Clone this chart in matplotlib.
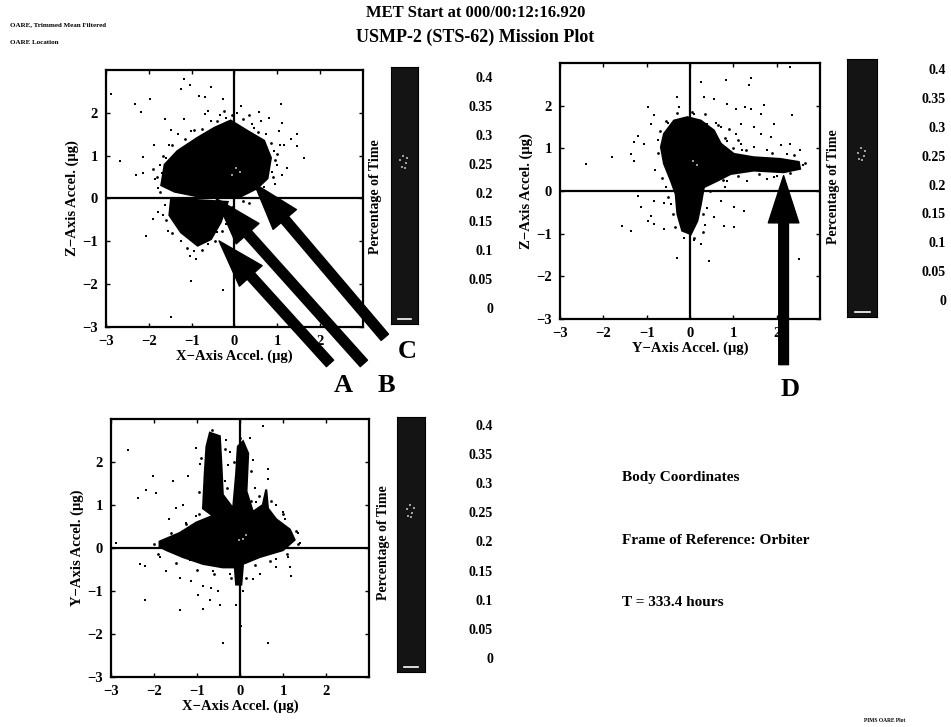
import matplotlib.pyplot as plt

plt.rcParams['font.family'] = ['Liberation Serif', 'DejaVu Serif']
plt.rcParams['font.weight'] = 'bold'
plt.rcParams['axes.labelweight'] = 'bold'

# ---- (units: micro-g) ----
axis_ticks = [-3, -2, -1, 0, 1, 2]
pct_ticks = [0, 0.05, 0.1, 0.15, 0.2, 0.25, 0.3, 0.35, 0.4]
pct_labels = ["0", "0.05", "0.1", "0.15", "0.2", "0.25", "0.3", "0.35", "0.4"]

# X vs Z (top left): dense core outline, lower lobe outline, sparse points
xz_core_x = [-1.71, -1.63, -1.33, -0.86, -0.47, -0.09, 0.30, 0.69, 0.85, 0.77, 0.53, 0.15, -0.86, -1.40]
xz_core_y = [0.31, 0.79, 1.11, 1.42, 1.65, 1.82, 1.58, 1.35, 0.95, 0.47, 0.24, 0.05, 0.05, 0.16]
xz_lobe_x = [-1.48, -1.52, -1.25, -0.86, -0.55, -0.32, -0.16]
xz_lobe_y = [0.0, -0.39, -0.79, -1.10, -0.95, -0.55, -0.08]
xz_pts_x = [-2.88, -1.98, -2.33, -2.18, -1.17, -1.05, -1.25, -0.82, -0.70, -0.28,
            -0.55, 0.15, 1.08, 0.61, 0.81, 1.12, 1.04, 1.31, 1.47, 1.62,
            1.23, 1.00, 1.12, -2.68, -2.14, -2.30, -2.14, -1.87, -1.63, -1.48,
            -1.17, -1.79, -1.91, -1.79, -1.67, -2.06, -1.56, -1.05, -0.90, -1.02,
            -0.28, -1.48, -0.63, -0.70, -1.33, -1.75, 1.16, 1.47, 1.07, 0.57,
            -1.60, -1.52, -1.02, -0.55, -0.20, 0.46, 0.73, 0.92, 0.88, 0.69,
            -1.25, -0.94, -0.63, -0.40, -1.63, -1.40, -0.35, 0.05, 0.40, -1.85,
            -1.70, 0.95, -0.10, -0.20]
xz_pts_y = [2.44, 2.32, 2.21, 2.01, 2.80, 2.64, 2.56, 2.40, 2.36, 2.32,
            2.60, 2.17, 2.21, 1.81, 1.89, 1.77, 1.58, 1.38, 1.22, 0.95,
            0.71, 0.79, 0.55, 0.87, 0.98, 0.55, 0.59, 1.26, 1.85, 1.61,
            1.85, 0.24, -0.47, -0.32, -0.39, -0.87, -0.75, -1.34, -1.42, -1.93,
            -2.13, -2.76, 2.05, 1.97, 1.50, 0.79, 1.26, 1.50, 1.26, 2.01,
            0.95, 1.26, 1.58, 1.81, 1.89, 1.65, 1.50, 1.10, 0.63, 0.28,
            -0.99, -1.22, -1.06, -0.79, -0.16, -0.47, 1.95, 2.00, 1.75, 0.45,
            0.60, 0.35, -0.30, -0.60]
xz_edge_x = [-1.80, -1.75, -1.68, -1.45, -1.15, -0.95, -0.75, -0.40, -0.05, 0.20,
             0.55, 0.85, 0.95, 0.90, 0.70, 0.35, 0.20, -0.05, -1.60, -1.45,
             -1.10, -0.75, -0.45, -0.30, -0.25, 1.00, -1.90, -0.25, 0.35]
xz_edge_y = [0.50, 0.15, 1.00, 1.25, 1.40, 1.60, 1.62, 1.80, 1.95, 1.85,
             1.55, 1.30, 0.90, 0.50, 0.15, -0.10, -0.05, -0.20, -0.50, -0.80,
             -1.15, -1.20, -1.00, -0.75, -0.30, 1.05, 0.70, 2.05, 1.95]

# Y vs Z (top right): blob with a tail towards +Y and a stem towards -Z
yz_core_x = [-0.60, -0.37, -0.06, 0.25, 0.55, 0.71, 1.01, 1.47, 2.09, 2.51,
             2.54, 2.16, 1.47, 0.94, 0.63, 0.32, 0.25, 0.17, 0.02, -0.18,
             -0.29, -0.33, -0.44, -0.60, -0.67]
yz_core_y = [1.34, 1.65, 1.73, 1.65, 1.42, 1.11, 0.87, 0.79, 0.75, 0.68,
             0.52, 0.44, 0.48, 0.40, 0.24, 0.09, -0.31, -0.70, -1.01, -0.93,
             -0.54, -0.07, 0.24, 0.64, 1.03]
yz_pts_x = [2.31, 1.40, 1.36, 0.82, 0.25, -0.29, -0.25, -0.98, -0.83, -0.90,
            -1.21, -1.29, -1.06, -1.36, -1.29, -1.79, -2.40, 0.32, 0.55, 0.86,
            1.05, 1.28, 1.40, 1.70, 1.63, 1.93, 1.47, 1.63, 1.86, 2.09,
            2.31, 2.54, 2.35, 1.17, 1.05, -1.21, -0.83, -0.60, -1.13, -0.90,
            -0.98, -0.83, -1.56, -1.36, -0.60, 0.71, 1.01, 1.24, 0.78, 1.01,
            0.55, -0.29, 0.25, 2.51, 0.44, 0.86, 1.32, 1.78, 1.93, 1.17,
            1.47, 1.78, 0.86, 0.71, 0.40, 0.09, 2.24, -0.75, -0.80, -0.55,
            -0.45, 0.40, 0.35, -0.15, 0.10, 0.80, -0.50, 0.60, 2.60, 2.00,
            1.20, 0.50]
yz_pts_y = [2.91, 2.64, 2.48, 2.60, 2.56, 2.20, 1.97, 1.97, 1.77, 1.58,
            1.30, 1.15, 1.11, 0.87, 0.71, 0.79, 0.64, 2.20, 2.16, 2.05,
            1.93, 1.97, 1.93, 2.01, 1.81, 1.58, 1.50, 1.34, 1.26, 1.07,
            1.11, 0.95, 1.77, 1.58, 1.34, -0.11, -0.23, -0.27, -0.38, -0.58,
            -0.70, -0.78, -0.82, -0.93, -0.89, -0.23, -0.38, -0.46, -0.82, -0.85,
            -0.62, -1.56, -1.25, -1.60, -1.64, 0.24, 0.24, 0.28, 0.32, 1.11,
            1.03, 0.95, 1.18, 1.50, 1.58, 1.81, 0.87, 1.20, 0.50, 0.10,
            -0.30, -0.40, -0.80, -1.10, -1.15, 0.10, 1.60, 1.60, 0.60, 0.35,
            0.95, 0.00]
yz_edge_x = [-0.70, -0.55, -0.30, 0.05, 0.35, 0.65, 0.80, -0.75, -0.65, -0.50,
             -0.40, -0.35, 0.30, 0.30, 0.10, 0.45, 0.75, 1.10, 1.60, 2.30,
             2.65, 2.40, 1.90, 1.30, 1.00, 0.90, 1.10]
yz_edge_y = [1.40, 1.65, 1.82, 1.85, 1.80, 1.55, 1.25, 0.90, 0.30, -0.15,
             -0.55, -0.85, -0.55, -0.95, -1.10, 0.00, 0.25, 0.35, 0.40, 0.42,
             0.65, 0.85, 0.90, 0.95, 1.00, 1.45, 1.20]

# X vs Y (bottom left): flat blob with two spikes towards +Y
xy_core_x = [-1.87, -1.40, -1.02, -0.63, -0.86, -0.82, -0.78, -0.70, -0.47, -0.43,
             -0.40, -0.16, -0.09, -0.05, 0.07, 0.19, 0.15, 0.30, 0.53, 0.61,
             0.65, 0.84, 1.16, 1.27, 1.00, 0.46, 0.07, 0.03, -0.09, -0.12,
             -0.40, -0.86, -1.33, -1.71, -1.87]
xy_core_y = [0.15, 0.35, 0.59, 0.75, 0.92, 1.72, 2.36, 2.68, 2.60, 1.88,
             1.24, 0.92, 1.72, 2.36, 2.48, 2.20, 1.32, 0.84, 1.00, 1.36,
             0.92, 0.67, 0.43, 0.19, -0.05, -0.21, -0.37, -0.85, -0.85, -0.45,
             -0.45, -0.37, -0.21, -0.05, 0.03]
xy_pts_x = [-2.60, -2.02, -2.18, -2.37, -1.95, -1.56, -1.21, -1.50, -1.64, -1.33,
            -1.02, -0.94, -0.59, -0.32, -0.24, -0.28, -0.36, 0.23, 0.30, 0.53,
            0.65, 0.65, 0.34, 0.84, 1.00, 1.04, 1.35, -1.87, -2.33, -2.22,
            -1.71, -1.40, -1.13, -0.86, -0.67, -0.98, -0.70, -0.47, -0.86, -1.40,
            -2.22, 0.84, 1.12, 1.16, 0.84, 1.19, 0.46, 0.30, -0.40, 0.65,
            0.03, -0.09, -2.88, -0.51, -0.63, -0.55, -1.02, -1.25, 0.37, 0.46,
            1.39, 0.65, -1.17, -0.63, -0.24, 0.07]
xy_pts_y = [2.28, 1.68, 1.36, 1.16, 1.28, 1.56, 1.68, 0.92, 0.67, 1.00,
            2.32, 1.96, 2.36, 2.52, 2.24, 1.92, 1.56, 2.56, 2.04, 2.84,
            1.84, 1.60, 1.40, 1.00, 0.84, 0.67, 0.35, -0.21, -0.37, -0.41,
            -0.53, -0.69, -0.77, -0.89, -0.93, -1.09, -1.21, -1.33, -1.41, -1.45,
            -1.21, -0.25, -0.21, -0.45, -0.45, -0.65, -0.61, -0.73, -2.22, -2.22,
            -1.81, -1.33, 0.11, -1.01, 1.72, 1.40, 0.75, 0.59, 1.08, 0.67,
            0.11, -0.13, -0.29, -0.53, -0.61, -1.01]
xy_edge_x = [-2.00, -1.90, -1.60, -1.25, -0.95, -0.95, -0.90, -0.65, -0.35, -0.30,
             -0.55, -0.15, 0.00, 0.25, 0.25, 0.45, 0.72, 1.00, 1.30, 1.35,
             1.10, 0.70, 0.35, 0.15, -0.20, -0.60, -1.00, -1.50]
xy_edge_y = [0.10, -0.15, 0.35, 0.55, 0.80, 1.30, 2.10, 2.75, 2.30, 1.40,
             1.20, 2.00, 2.55, 1.80, 1.10, 1.20, 1.10, 0.80, 0.40, 0.10,
             -0.15, -0.30, -0.40, -0.70, -0.70, -0.60, -0.50, -0.35]

# lighter specks in the densest spot of each cloud
xz_speck = ([0.03, 0.12, -0.05], [0.71, 0.62, 0.55])
yz_speck = ([0.07, 0.15], [0.70, 0.62])
xy_speck = ([0.07, 0.15, -0.02], [0.22, 0.30, 0.18])

W, H = 951, 727


def box(left, top, right, bottom):
    return [left / W, 1 - bottom / H, (right - left) / W, (bottom - top) / H]


def cloud_panel(fig, rect, cores, pts, edge, speck, xlabel, ylabel):
    ax = fig.add_axes(rect)
    for cx, cy in cores:
        ax.fill(cx, cy, color="black", lw=1.5, ec="black", zorder=2)
    ax.scatter(pts[0], pts[1], s=3, c="black", marker="s", lw=0, zorder=2)
    ax.scatter(edge[0], edge[1], s=4, c="black", marker="o", lw=0, zorder=2)
    ax.scatter(speck[0], speck[1], s=3, c="#9a9a9a", marker="s", lw=0, zorder=3)
    ax.axhline(0, color="black", lw=1.6, zorder=1)
    ax.axvline(0, color="black", lw=1.6, zorder=1)
    ax.set_xlim(-3, 3)
    ax.set_ylim(-3, 3)
    ax.set_xticks(axis_ticks)
    ax.set_yticks(axis_ticks)
    ax.tick_params(direction="in", length=3, width=1, top=True, right=True,
                   labelsize=10.5, pad=6)
    for lab in ax.get_xticklabels() + ax.get_yticklabels():
        lab.set_fontweight("bold")
    for sp in ax.spines.values():
        sp.set_linewidth(1.6)
    ax.set_xlabel(xlabel, fontsize=10.5, labelpad=1)
    ax.set_ylabel(ylabel, fontsize=10.5, labelpad=2)
    return ax


def time_bar(fig, rect, label_x, label_top, label_bot, title_x, title_y):
    cax = fig.add_axes(rect)
    cax.set_facecolor("#141414")
    cax.set_xlim(0, 1)
    cax.set_ylim(0, 0.4)
    cax.axhline(0.008, xmin=0.25, xmax=0.75, color="white", lw=1.2)
    cax.scatter([0.35, 0.45, 0.55, 0.6, 0.4, 0.5], [0.255, 0.262, 0.25, 0.258, 0.245, 0.243],
                s=3, c="#a0a0a0", marker="s", lw=0)
    cax.set_xticks([])
    cax.set_yticks([])
    lax = fig.add_axes([label_x / W, 1 - label_bot / H, 0.0001, (label_bot - label_top) / H])
    lax.set_ylim(0, 0.4)
    lax.set_yticks(pct_ticks)
    lax.set_yticklabels(pct_labels, fontweight="bold")
    lax.tick_params(length=0, pad=0, labelsize=10)
    lax.set_xticks([])
    for sp in lax.spines.values():
        sp.set_visible(False)
    lax.patch.set_visible(False)
    fig.text(title_x / W, 1 - title_y / H, "Percentage of Time", rotation=90,
             ha="center", va="center", fontsize=10)


def big_arrow(ax, tail, tip):
    ax.annotate("", xy=tip, xytext=tail, xycoords="data", textcoords="data",
                annotation_clip=False,
                arrowprops=dict(arrowstyle="simple,head_length=3.4,head_width=2.2,tail_width=0.7",
                                color="black", shrinkA=0, shrinkB=0, mutation_scale=10))


fig = plt.figure(figsize=(W / 100, H / 100), dpi=100)

ax1 = cloud_panel(fig, box(106, 70, 363, 327),
                  [(xz_core_x, xz_core_y), (xz_lobe_x, xz_lobe_y)],
                  (xz_pts_x, xz_pts_y), (xz_edge_x, xz_edge_y), xz_speck,
                  "X\u2212Axis Accel. (\u03bcg)", "Z\u2212Axis Accel. (\u03bcg)")
ax2 = cloud_panel(fig, box(560, 63, 820, 319),
                  [(yz_core_x, yz_core_y)],
                  (yz_pts_x, yz_pts_y), (yz_edge_x, yz_edge_y), yz_speck,
                  "Y\u2212Axis Accel. (\u03bcg)", "Z\u2212Axis Accel. (\u03bcg)")
ax3 = cloud_panel(fig, box(111, 419, 369, 677),
                  [(xy_core_x, xy_core_y)],
                  (xy_pts_x, xy_pts_y), (xy_edge_x, xy_edge_y), xy_speck,
                  "X\u2212Axis Accel. (\u03bcg)", "Y\u2212Axis Accel. (\u03bcg)")

time_bar(fig, box(391, 67, 418, 324), 493, 77, 308, 375, 197)
time_bar(fig, box(847, 59, 877, 317), 946, 69, 300, 833, 187)
time_bar(fig, box(397, 417, 425, 672), 493, 425, 658, 384, 543)

# arrows pointing at the features in the clouds
big_arrow(ax1, (2.23, -3.85), (-0.36, -0.99))
big_arrow(ax1, (3.02, -3.85), (-0.43, 0.0))
big_arrow(ax1, (3.51, -3.24), (0.46, 0.35))
big_arrow(ax2, (2.16, -4.07), (2.16, 0.36))

for letter, (px, py) in {"A": (343, 386), "B": (386, 386), "C": (407, 351), "D": (790, 389)}.items():
    fig.text(px / W, 1 - py / H, letter, ha="center", va="center", fontsize=19)

fig.text(476 / W, 1 - 13 / H, "MET Start at 000/00:12:16.920", ha="center", va="center", fontsize=12)
fig.text(475 / W, 1 - 37 / H, "USMP-2 (STS-62) Mission Plot", ha="center", va="center", fontsize=13)
fig.text(10 / W, 1 - 25 / H, "OARE, Trimmed Mean Filtered", ha="left", va="center", fontsize=5)
fig.text(10 / W, 1 - 43 / H, "OARE Location", ha="left", va="center", fontsize=5)

fig.text(622 / W, 1 - 477 / H, "Body Coordinates", ha="left", va="center", fontsize=11)
fig.text(622 / W, 1 - 540 / H, "Frame of Reference: Orbiter", ha="left", va="center", fontsize=11)
fig.text(622 / W, 1 - 603 / H, "T = 333.4 hours", ha="left", va="center", fontsize=11)
fig.text(885 / W, 1 - 721 / H, "PIMS OARE Plot", ha="center", va="center", fontsize=4)

fig.savefig("out.png", dpi=100)
